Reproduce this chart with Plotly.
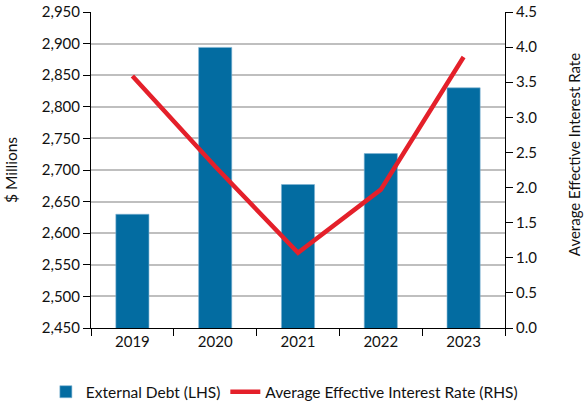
import plotly.graph_objects as go

years = ["2019", "2020", "2021", "2022", "2023"]
external_debt = [2630, 2894, 2677, 2726, 2830]
interest_rate = [3.59, 2.30, 1.07, 1.97, 3.86]

left_ticks = list(range(2450, 2951, 50))
right_ticks = [i * 0.5 for i in range(10)]

font_family = "Lato, 'Open Sans', sans-serif"

fig = go.Figure()
fig.add_trace(go.Bar(
    x=years, y=external_debt, name="External Debt (LHS)",
    marker=dict(color="#036ca1", line=dict(color="#7fb4d4", width=0.6)),
    yaxis="y",
))
fig.add_trace(go.Scatter(
    x=years, y=interest_rate, name="Average Effective Interest Rate (RHS)",
    mode="lines", line=dict(color="#e4202a", width=4.5),
    yaxis="y2",
))

fig.update_layout(
    width=584, height=404,
    margin=dict(l=91, r=79, t=12, b=76, autoexpand=False),
    paper_bgcolor="white", plot_bgcolor="white",
    font=dict(family=font_family, size=15, color="#111111"),
    bargap=0.6,
    showlegend=True,
    legend=dict(orientation="h", x=-0.109, xanchor="left", y=-0.203, yanchor="middle",
                font=dict(size=15.5), itemwidth=30, traceorder="normal",
                bgcolor="rgba(0,0,0,0)"),
    xaxis=dict(
        showline=True, linecolor="black", linewidth=1,
        ticks="outside", ticklen=7, tickcolor="black",
        tickson="boundaries", showgrid=False,
        tickfont=dict(size=15),
    ),
    yaxis=dict(
        range=[2450, 2950], tickvals=left_ticks,
        ticktext=[f"{v:,}" for v in left_ticks],
        showline=True, linecolor="black", linewidth=1,
        ticks="outside", ticklen=7, tickcolor="black",
        showgrid=True, gridcolor="#bfbfbf", gridwidth=1.5,
        title=dict(text="$ Millions", font=dict(size=15.5), standoff=20),
        zeroline=False,
    ),
    yaxis2=dict(
        range=[0, 4.5], tickvals=right_ticks,
        ticktext=[f"{v:.1f}" for v in right_ticks],
        overlaying="y", side="right",
        showline=True, linecolor="black", linewidth=1,
        ticks="outside", ticklen=7, tickcolor="black",
        showgrid=False, zeroline=False,
    ),
)

# Right-hand axis title, placed as a rotated label beside the rate axis
fig.add_annotation(
    text="Average Effective Interest Rate",
    xref="paper", yref="paper", x=1, y=0.547,
    xanchor="center", yanchor="middle", xshift=69,
    textangle=-90, showarrow=False,
    font=dict(size=15, family=font_family, color="#111111"),
)

fig.write_html("out.html")
